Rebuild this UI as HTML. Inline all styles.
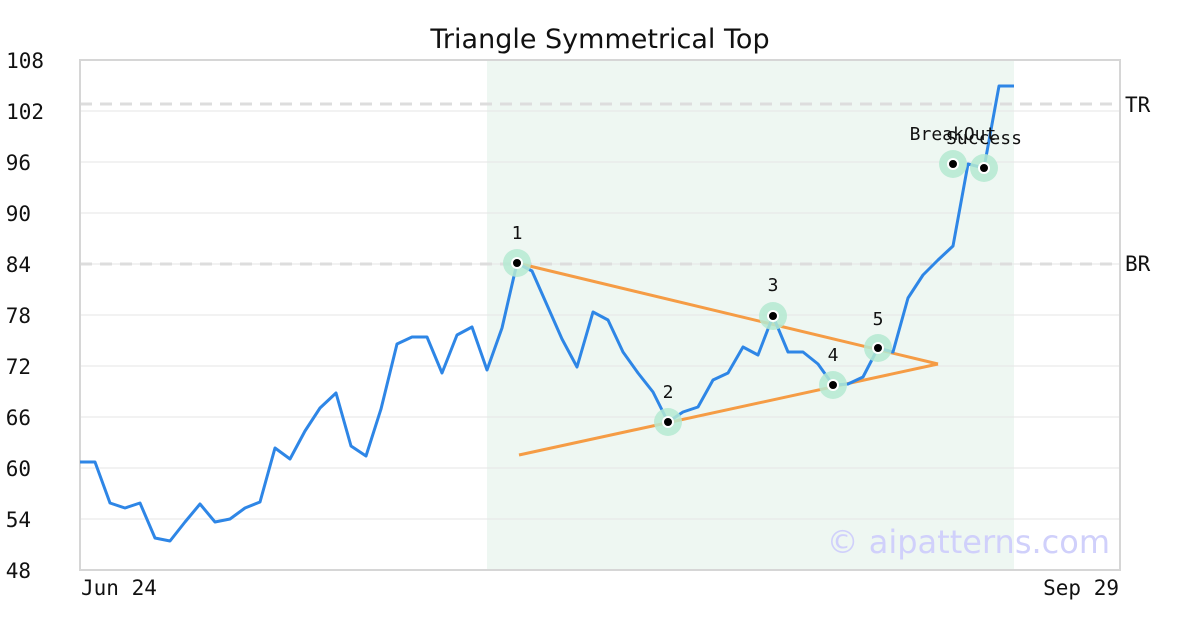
<!DOCTYPE html>
<html><head><meta charset="utf-8"><style>
body{margin:0;background:#fff;}
svg{display:block;}
.m{font-family:"DejaVu Sans Mono","Liberation Mono",monospace;font-size:21px;fill:#111;}
.s{font-family:"DejaVu Sans Mono","Liberation Mono",monospace;font-size:18px;fill:#111;}
</style></head><body>
<svg width="1200" height="630" viewBox="0 0 1200 630">
<rect width="1200" height="630" fill="#fff"/>
<rect x="487" y="60" width="527" height="510" fill="#eef7f2"/>
<g stroke="#e6e6e6" stroke-width="1">
<line x1="80" x2="1120" y1="519" y2="519"/><line x1="80" x2="1120" y1="468" y2="468"/>
<line x1="80" x2="1120" y1="417" y2="417"/><line x1="80" x2="1120" y1="366" y2="366"/>
<line x1="80" x2="1120" y1="315" y2="315"/><line x1="80" x2="1120" y1="264" y2="264"/>
<line x1="80" x2="1120" y1="213" y2="213"/><line x1="80" x2="1120" y1="162" y2="162"/>
<line x1="80" x2="1120" y1="111" y2="111"/>
</g>
<g stroke="#dddddd" stroke-width="3" stroke-dasharray="12,8">
<line x1="80" x2="1120" y1="104" y2="104"/><line x1="80" x2="1120" y1="264" y2="264"/>
</g>
<rect x="80" y="60" width="1040" height="510" fill="none" stroke="#d6d6d6" stroke-width="2"/>
<text x="600" y="48" text-anchor="middle" style="font-family:'DejaVu Sans','Liberation Sans',sans-serif;font-size:27px;fill:#111">Triangle Symmetrical Top</text>
<g class="m" text-anchor="end">
<text x="44" y="68">108</text><text x="44" y="119">102</text><text x="31" y="170">96</text><text x="31" y="221">90</text><text x="31" y="272">84</text><text x="31" y="323">78</text><text x="31" y="374">72</text><text x="31" y="425">66</text><text x="31" y="476">60</text><text x="31" y="527">54</text><text x="31" y="578">48</text>
</g>
<text class="m" x="81" y="595">Jun 24</text>
<text class="m" x="1119" y="595" text-anchor="end">Sep 29</text>
<text class="m" x="1125" y="112">TR</text>
<text class="m" x="1125" y="271">BR</text>
<text x="1110" y="553" text-anchor="end" style="font-family:'DejaVu Sans','Liberation Sans',sans-serif;font-size:32px;fill:#d0d0fb">© aipatterns.com</text>
<g stroke="#f59c45" stroke-width="3" fill="none">
<line x1="517" y1="263" x2="938" y2="364"/><line x1="519" y1="455" x2="938" y2="364"/>
</g>
<polyline fill="none" stroke="#2e86e6" stroke-width="3" stroke-linejoin="round" points="80,462 95,462 110,503 125,508 140,503 155,538 170,541 185,522 200,504 215,522 230,519 245,508 260,502 275,448 290,459 305,431 320,408 336,393 351,446 366,456 381,409 397,344 412,337 427,337 442,373 457,335 472,327 487,370 502,328 517,263 532,271 547,305 562,339 577,367 593,312 608,320 623,352 638,373 653,392 668,422 683,412 698,407 713,380 728,373 743,347 758,355 773,316 788,352 803,352 818,364 833,385 848,384 863,377 878,348 893,352 908,298 923,275 938,260 953,246 968,164 984,168 999,86 1014,86"/>
<g fill="#b5ead2" opacity="0.85">
<circle cx="517" cy="263" r="14"/><circle cx="668" cy="422" r="14"/><circle cx="773" cy="316" r="14"/><circle cx="833" cy="385" r="14"/><circle cx="878" cy="348" r="14"/><circle cx="953" cy="164" r="14"/><circle cx="984" cy="168" r="14"/>
</g>
<g fill="#000" stroke="#fff" stroke-width="2">
<circle cx="517" cy="263" r="5"/><circle cx="668" cy="422" r="5"/><circle cx="773" cy="316" r="5"/><circle cx="833" cy="385" r="5"/><circle cx="878" cy="348" r="5"/><circle cx="953" cy="164" r="5"/><circle cx="984" cy="168" r="5"/>
</g>
<g class="s" text-anchor="middle">
<text x="517" y="239">1</text><text x="668" y="398">2</text><text x="773" y="291">3</text><text x="833" y="361">4</text><text x="878" y="325">5</text>
<text x="953" y="140">BreakOut</text><text x="984" y="144">Success</text>
</g>
</svg>
</body></html>
